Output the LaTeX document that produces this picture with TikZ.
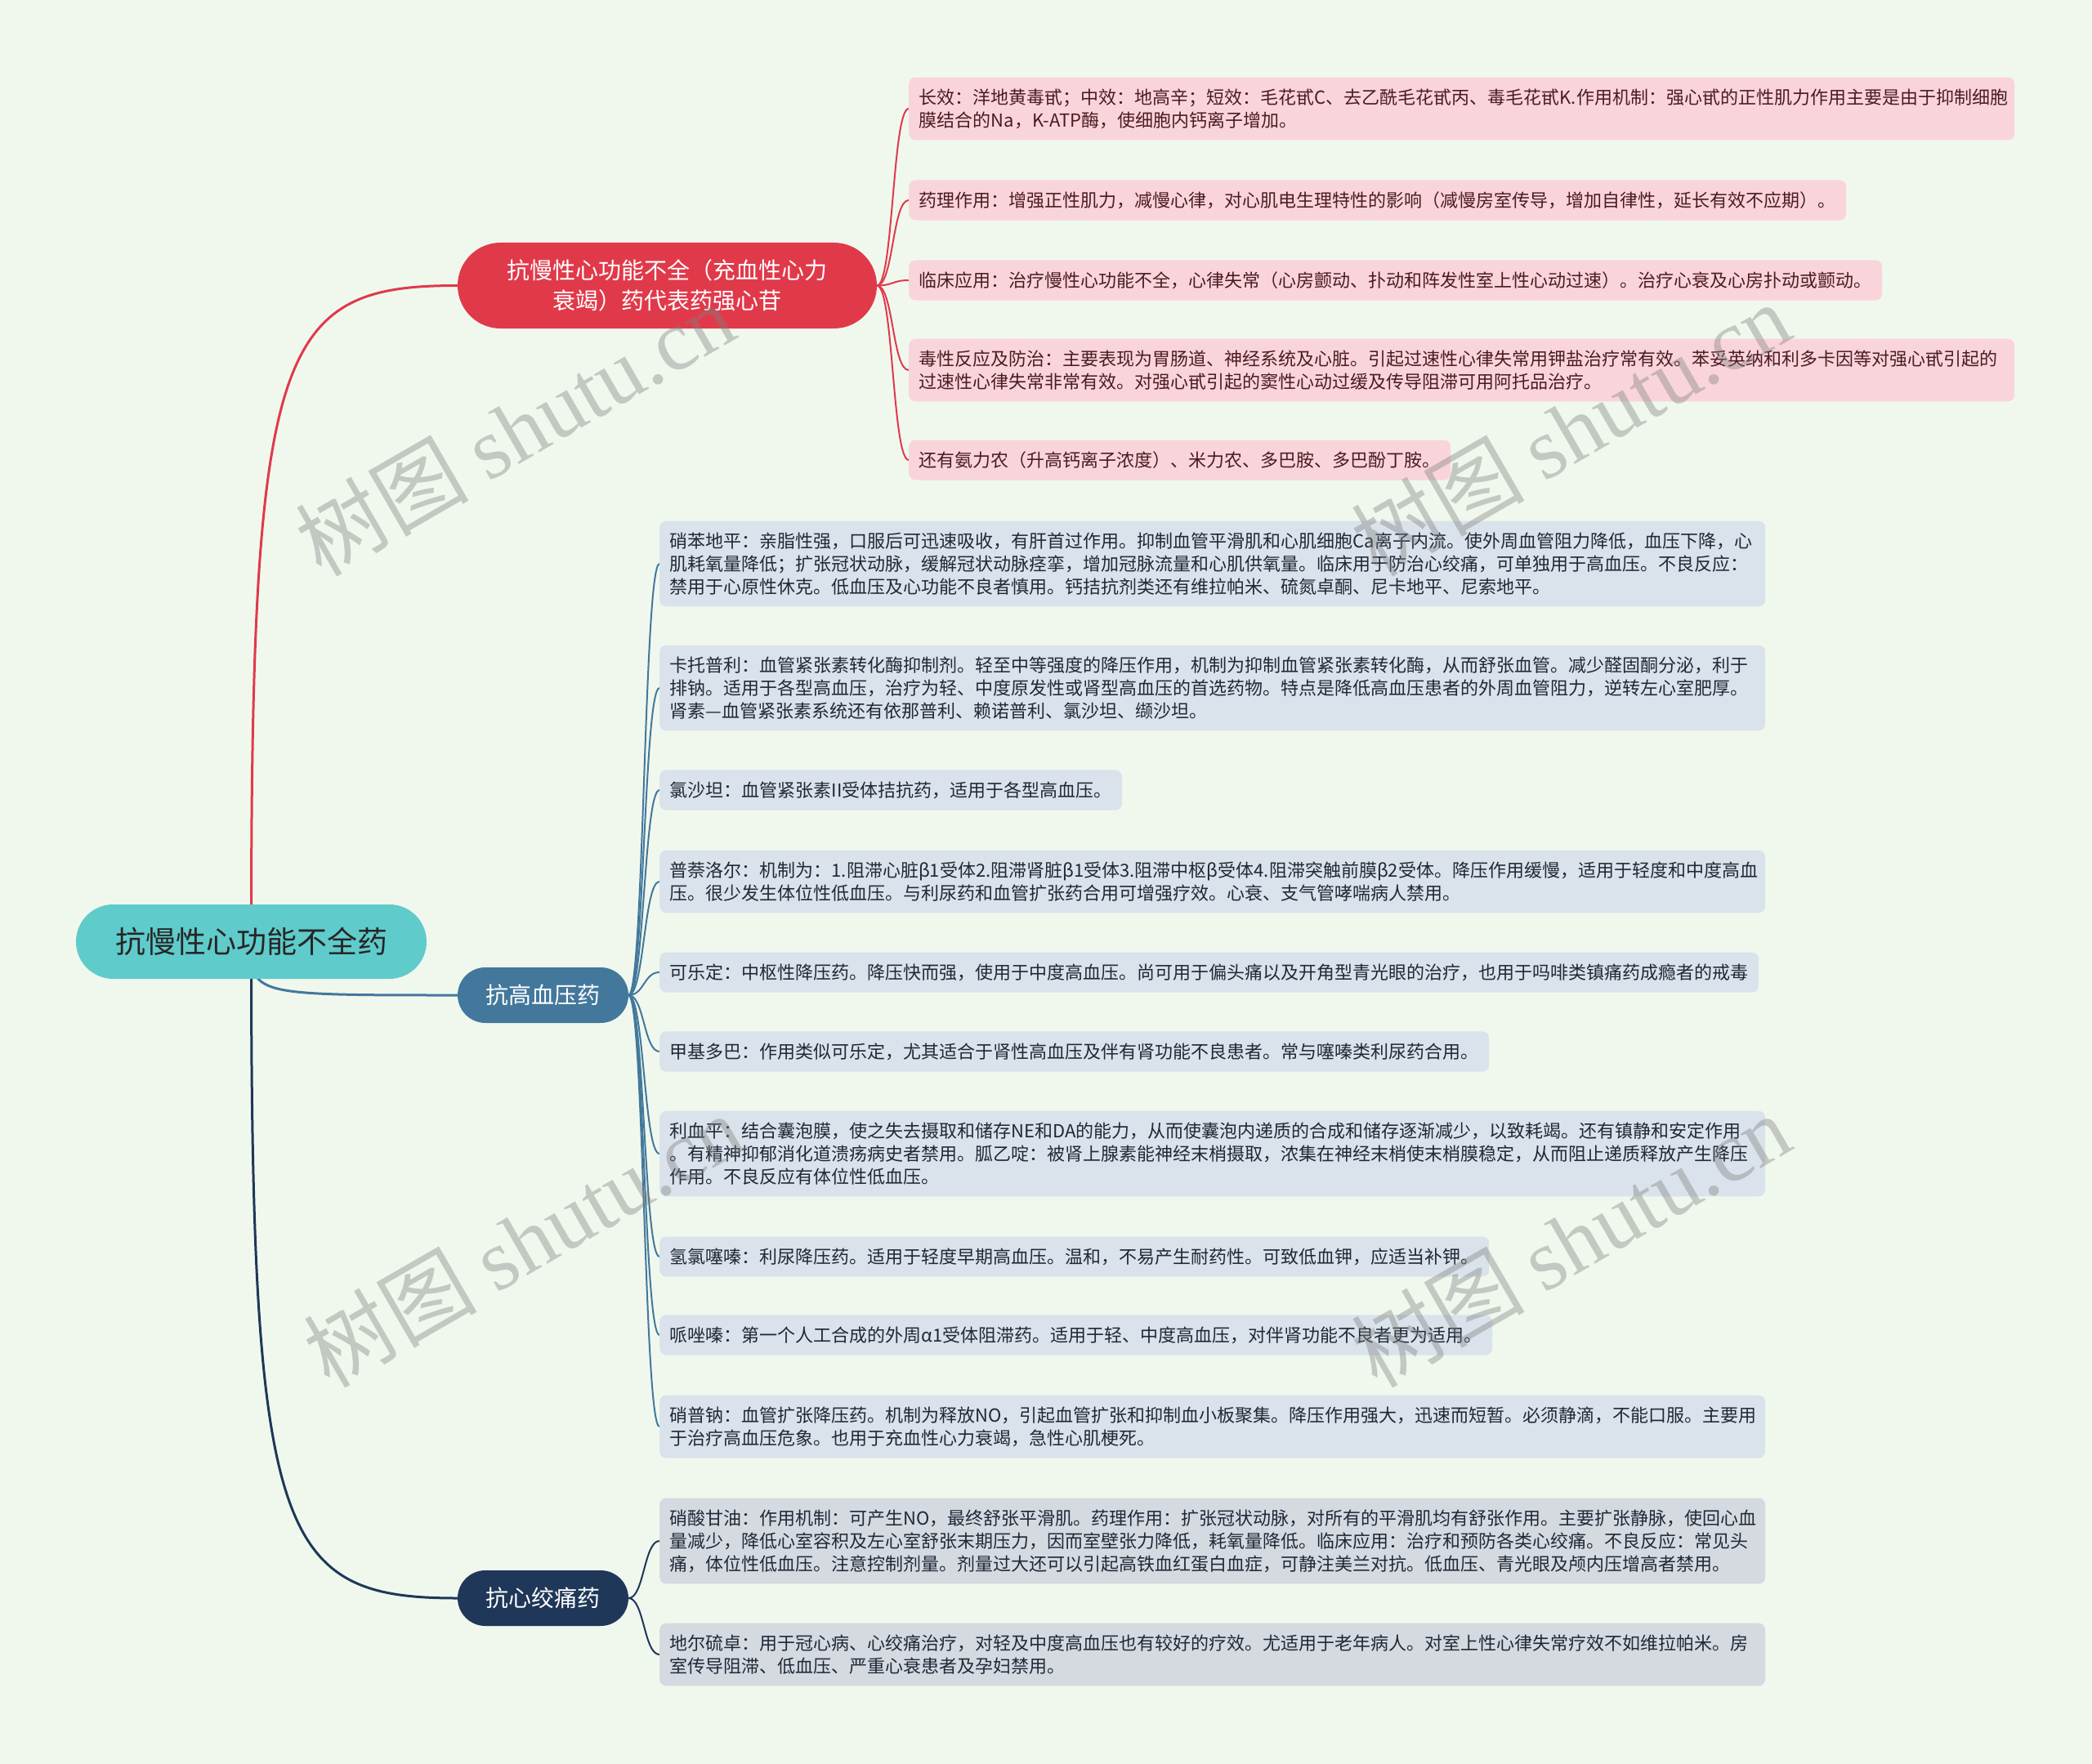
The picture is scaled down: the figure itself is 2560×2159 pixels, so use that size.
\documentclass[tikz,border=0pt]{standalone}
\usepackage{fontspec}
\setmainfont{Noto Sans CJK SC}
\newfontfamily\wmfont{Liberation Serif}
\usetikzlibrary{shapes.misc, backgrounds}

\definecolor{bgcol}{HTML}{F0F8EE}
\definecolor{rootcol}{HTML}{5FCBCA}
\definecolor{chfcol}{HTML}{E03A4A}
\definecolor{hypcol}{HTML}{43789C}
\definecolor{angcol}{HTML}{1F3758}
\definecolor{pinkleaf}{HTML}{F9D5DB}
\definecolor{blueleaf}{HTML}{DAE3EB}
\definecolor{grayleaf}{HTML}{D5DAE1}
\definecolor{pinktext}{HTML}{4D1A22}
\definecolor{bluetext}{HTML}{1F2937}

\begin{document}
\begin{tikzpicture}[
    x=1pt, y=-1pt,
    pill/.style={rounded rectangle, inner sep=0pt, align=center},
    mainpill/.style={pill, font=\fontsize{28}{37.5}\selectfont, text=white},
    leaf/.style={rectangle, rounded corners=8pt, anchor=west, align=left, inner xsep=12.5pt, inner ysep=14pt, minimum height=49pt, font=\fontsize{22}{28}\selectfont},
    wide/.style={text width=1328pt},
    chfleaf/.style={leaf, fill=pinkleaf, text=pinktext},
    hypleaf/.style={leaf, fill=blueleaf, text=bluetext},
    angleaf/.style={leaf, fill=grayleaf, text=bluetext},
    wm/.style={rotate=30, text=black!50, text opacity=0.4, font=\fontsize{106}{116}\selectfont}
]
    % Root
    \node[pill, fill=rootcol, text=black!85, minimum width=429pt, minimum height=91pt, font=\fontsize{37}{44}\selectfont] (root) at (307.5,1152.5) {抗慢性心功能不全药};

    % Main branches
    \node[mainpill, fill=chfcol, minimum width=513pt, minimum height=105pt] (chf) at (816.5,349.5) {抗慢性心功能不全（充血性心力\\衰竭）药代表药强心苷};
    \node[mainpill, fill=hypcol, minimum width=209pt, minimum height=68pt] (hyp) at (664.5,1218) {抗高血压药};
    \node[mainpill, fill=angcol, minimum width=209pt, minimum height=68pt] (ang) at (664.5,1956) {抗心绞痛药};

    % Cardiac glycosides
    \node[chfleaf, wide] (chf1) at (1112,133) {长效：洋地黄毒甙；中效：地高辛；短效：毛花甙C、去乙酰毛花甙丙、毒毛花甙K.作用机制：强心甙的正性肌力作用主要是由于抑制细胞\\膜结合的Na，K-ATP酶，使细胞内钙离子增加。};
    \node[chfleaf] (chf2) at (1112,245) {药理作用：增强正性肌力，减慢心律，对心肌电生理特性的影响（减慢房室传导，增加自律性，延长有效不应期）。};
    \node[chfleaf] (chf3) at (1112,343) {临床应用：治疗慢性心功能不全，心律失常（心房颤动、扑动和阵发性室上性心动过速）。治疗心衰及心房扑动或颤动。};
    \node[chfleaf, wide] (chf4) at (1112,453) {毒性反应及防治：主要表现为胃肠道、神经系统及心脏。引起过速性心律失常用钾盐治疗常有效。苯妥英纳和利多卡因等对强心甙引起的\\过速性心律失常非常有效。对强心甙引起的窦性心动过缓及传导阻滞可用阿托品治疗。};
    \node[chfleaf] (chf5) at (1112,563) {还有氨力农（升高钙离子浓度）、米力农、多巴胺、多巴酚丁胺。};

    % Antihypertensives
    \node[hypleaf, wide] (hyp1) at (807,690) {硝苯地平：亲脂性强，口服后可迅速吸收，有肝首过作用。抑制血管平滑肌和心肌细胞Ca离子内流。使外周血管阻力降低，血压下降，心\\肌耗氧量降低；扩张冠状动脉，缓解冠状动脉痉挛，增加冠脉流量和心肌供氧量。临床用于防治心绞痛，可单独用于高血压。不良反应：\\禁用于心原性休克。低血压及心功能不良者慎用。钙拮抗剂类还有维拉帕米、硫氮卓酮、尼卡地平、尼索地平。};
    \node[hypleaf, wide] (hyp2) at (807,842) {卡托普利：血管紧张素转化酶抑制剂。轻至中等强度的降压作用，机制为抑制血管紧张素转化酶，从而舒张血管。减少醛固酮分泌，利于\\排钠。适用于各型高血压，治疗为轻、中度原发性或肾型高血压的首选药物。特点是降低高血压患者的外周血管阻力，逆转左心室肥厚。\\肾素—血管紧张素系统还有依那普利、赖诺普利、氯沙坦、缬沙坦。};
    \node[hypleaf] (hyp3) at (807,967) {氯沙坦：血管紧张素II受体拮抗药，适用于各型高血压。};
    \node[hypleaf, wide] (hyp4) at (807,1079) {普萘洛尔：机制为：1.阻滞心脏β1受体2.阻滞肾脏β1受体3.阻滞中枢β受体4.阻滞突触前膜β2受体。降压作用缓慢，适用于轻度和中度高血\\压。很少发生体位性低血压。与利尿药和血管扩张药合用可增强疗效。心衰、支气管哮喘病人禁用。};
    \node[hypleaf] (hyp5) at (807,1190) {可乐定：中枢性降压药。降压快而强，使用于中度高血压。尚可用于偏头痛以及开角型青光眼的治疗，也用于吗啡类镇痛药成瘾者的戒毒};
    \node[hypleaf] (hyp6) at (807,1287) {甲基多巴：作用类似可乐定，尤其适合于肾性高血压及伴有肾功能不良患者。常与噻嗪类利尿药合用。};
    \node[hypleaf, wide] (hyp7) at (807,1412) {利血平：结合囊泡膜，使之失去摄取和储存NE和DA的能力，从而使囊泡内递质的合成和储存逐渐减少，以致耗竭。还有镇静和安定作用\\。有精神抑郁消化道溃疡病史者禁用。胍乙啶：被肾上腺素能神经末梢摄取，浓集在神经末梢使末梢膜稳定，从而阻止递质释放产生降压\\作用。不良反应有体位性低血压。};
    \node[hypleaf] (hyp8) at (807,1538) {氢氯噻嗪：利尿降压药。适用于轻度早期高血压。温和，不易产生耐药性。可致低血钾，应适当补钾。};
    \node[hypleaf] (hyp9) at (807,1634) {哌唑嗪：第一个人工合成的外周α1受体阻滞药。适用于轻、中度高血压，对伴肾功能不良者更为适用。};
    \node[hypleaf, wide] (hyp10) at (807,1746) {硝普钠：血管扩张降压药。机制为释放NO，引起血管扩张和抑制血小板聚集。降压作用强大，迅速而短暂。必须静滴，不能口服。主要用\\于治疗高血压危象。也用于充血性心力衰竭，急性心肌梗死。};

    % Antianginals
    \node[angleaf, wide] (ang1) at (807,1886) {硝酸甘油：作用机制：可产生NO，最终舒张平滑肌。药理作用：扩张冠状动脉，对所有的平滑肌均有舒张作用。主要扩张静脉，使回心血\\量减少，降低心室容积及左心室舒张末期压力，因而室壁张力降低，耗氧量降低。临床应用：治疗和预防各类心绞痛。不良反应：常见头\\痛，体位性低血压。注意控制剂量。剂量过大还可以引起高铁血红蛋白血症，可静注美兰对抗。低血压、青光眼及颅内压增高者禁用。};
    \node[angleaf, wide] (ang2) at (807,2025) {地尔硫卓：用于冠心病、心绞痛治疗，对轻及中度高血压也有较好的疗效。尤适用于老年病人。对室上性心律失常疗效不如维拉帕米。房\\室传导阻滞、低血压、严重心衰患者及孕妇禁用。};

    % Background and connectors
    \begin{pgfonlayer}{background}
        \fill[bgcol] (0,0) rectangle (2560,2159);
        \draw[chfcol, line width=3pt] (root.center) .. controls (307,420) and (340,349.5) .. (chf.west);
        \draw[hypcol, line width=3pt] (root.center) .. controls (307,1218) .. (hyp.west);
        \draw[angcol, line width=3pt] (root.center) .. controls (307,1885) and (340,1956) .. (ang.west);

        \draw[chfcol, line width=2pt] (chf.east) .. controls +(20,0) and +(-20,0) .. (chf1.west);
        \draw[chfcol, line width=2pt] (chf.east) .. controls +(20,0) and +(-20,0) .. (chf2.west);
        \draw[chfcol, line width=2pt] (chf.east) .. controls +(20,0) and +(-20,0) .. (chf3.west);
        \draw[chfcol, line width=2pt] (chf.east) .. controls +(20,0) and +(-20,0) .. (chf4.west);
        \draw[chfcol, line width=2pt] (chf.east) .. controls +(20,0) and +(-20,0) .. (chf5.west);

        \draw[hypcol, line width=2pt] (hyp.east) .. controls +(19,0) and +(-19,0) .. (hyp1.west);
        \draw[hypcol, line width=2pt] (hyp.east) .. controls +(19,0) and +(-19,0) .. (hyp2.west);
        \draw[hypcol, line width=2pt] (hyp.east) .. controls +(19,0) and +(-19,0) .. (hyp3.west);
        \draw[hypcol, line width=2pt] (hyp.east) .. controls +(19,0) and +(-19,0) .. (hyp4.west);
        \draw[hypcol, line width=2pt] (hyp.east) .. controls +(19,0) and +(-19,0) .. (hyp5.west);
        \draw[hypcol, line width=2pt] (hyp.east) .. controls +(19,0) and +(-19,0) .. (hyp6.west);
        \draw[hypcol, line width=2pt] (hyp.east) .. controls +(19,0) and +(-19,0) .. (hyp7.west);
        \draw[hypcol, line width=2pt] (hyp.east) .. controls +(19,0) and +(-19,0) .. (hyp8.west);
        \draw[hypcol, line width=2pt] (hyp.east) .. controls +(19,0) and +(-19,0) .. (hyp9.west);
        \draw[hypcol, line width=2pt] (hyp.east) .. controls +(19,0) and +(-19,0) .. (hyp10.west);

        \draw[angcol, line width=2pt] (ang.east) .. controls +(19,0) and +(-19,0) .. (ang1.west);
        \draw[angcol, line width=2pt] (ang.east) .. controls +(19,0) and +(-19,0) .. (ang2.west);
    \end{pgfonlayer}

    % Watermarks
    \node[wm] (wm1) at (630,525) {树图 {\wmfont shutu.cn}};
    \node[wm] (wm2) at (1922,525) {树图 {\wmfont shutu.cn}};
    \node[wm] (wm3) at (640,1518) {树图 {\wmfont shutu.cn}};
    \node[wm] (wm4) at (1922,1518) {树图 {\wmfont shutu.cn}};
\end{tikzpicture}
\end{document}
